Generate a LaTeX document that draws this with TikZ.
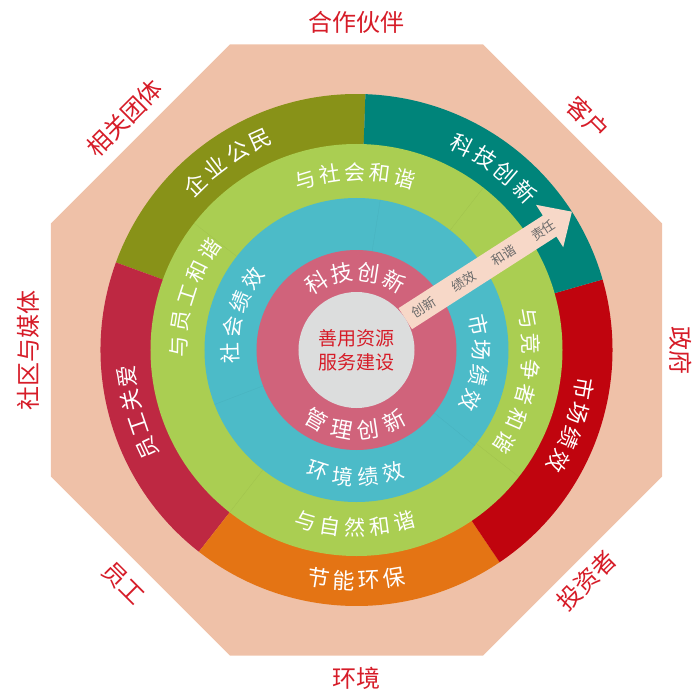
\documentclass[tikz,border=0pt]{standalone}
\usepackage{fontspec}
\newfontfamily\cjk{Noto Sans CJK SC}
\definecolor{octc}{RGB}{239,193,168}
\definecolor{olivec}{RGB}{136,146,24}
\definecolor{tealc}{RGB}{0,132,122}
\definecolor{crimc}{RGB}{190,40,66}
\definecolor{orangec}{RGB}{228,116,20}
\definecolor{redc}{RGB}{192,4,14}
\definecolor{greenc}{RGB}{170,206,82}
\definecolor{cyanc}{RGB}{76,187,200}
\definecolor{pinkc}{RGB}{208,99,123}
\definecolor{grayc}{RGB}{220,221,221}
\definecolor{arrowc}{RGB}{247,216,200}
\definecolor{labred}{RGB}{214,28,40}
\definecolor{arrtxt}{RGB}{105,105,105}
\tikzset{
  ringA/.style={text=white,inner sep=0pt,font=\cjk\fontsize{22}{22}\selectfont},
  ringB/.style={text=white,inner sep=0pt,font=\cjk\fontsize{21}{21}\selectfont},
  ringC/.style={text=white,inner sep=0pt,font=\cjk\fontsize{21}{21}\selectfont},
  ringD/.style={text=white,inner sep=0pt,font=\cjk\fontsize{22}{22}\selectfont},
  outlab/.style={text=labred,inner sep=0pt,font=\cjk\fontsize{24}{24}\selectfont},
  arrlab/.style={text=arrtxt,inner sep=0pt,rotate=32.7,font=\cjk\fontsize{13}{13}\selectfont},
  gdiv/.style={draw=greenc!94!black,line width=0.3pt},
  cdiv/.style={draw=cyanc!95!black,line width=0.3pt},
}
% #1 style, #2 radius, #3 centre angle, #4 step, #5 count, #6 dir (1 cw,-1 ccw), #7 name, #8 list
\newcommand{\arctxt}[8][ringA]{%
  \foreach \ch [count=\i] in {#8}{%
    \pgfmathsetmacro\ang{#3+#6*((#5+1)/2-\i)*#4}%
    \pgfmathsetmacro\rot{\ang-#6*90}%
    \node[#1,rotate=\rot] (#7-\i) at (\ang:#2) {\ch};
  }}
\begin{document}
\begin{tikzpicture}[x=1pt,y=1pt]
\useasboundingbox (-356.5,-341) rectangle (336.5,350);
% octagon
\fill[octc] (22.5:330.7) -- (67.5:330.7) -- (112.5:330.7) -- (157.5:330.7) -- (202.5:330.7) -- (247.5:330.7) -- (292.5:330.7) -- (337.5:330.7) -- cycle;
% outer ring segments
\fill[olivec] (0,0) -- (88:256) arc[start angle=88,end angle=160,radius=256] -- cycle;
\fill[crimc] (0,0) -- (160:256) arc[start angle=160,end angle=232,radius=256] -- cycle;
\fill[orangec] (0,0) -- (232:256) arc[start angle=232,end angle=304,radius=256] -- cycle;
\fill[redc] (0,0) -- (304:256) arc[start angle=304,end angle=376,radius=256] -- cycle;
\fill[tealc] (0,0) -- (16:256) arc[start angle=16,end angle=88,radius=256] -- cycle;
% inner rings
\fill[greenc] (0,0) circle[radius=206];
\fill[cyanc] (0,0) circle[radius=152];
\fill[pinkc] (0,0) circle[radius=100];
% faint dividers
\foreach \a in {52,142,232,322} \draw[gdiv] (\a:152) -- (\a:206);
\foreach \a in {81,201,321} \draw[cdiv] (\a:100) -- (\a:152);
% arrow
\begin{scope}[rotate=32.7]
\fill[arrowc] (58,-12.5) -- (229.5,-12.5) -- (229.5,-25.2) -- (256,0) -- (229.5,25.2) -- (229.5,12.5) -- (58,12.5) -- cycle;
\node[arrlab] (a1) at (79.5,0) {创新};
\node[arrlab] (a2) at (128,0) {绩效};
\node[arrlab] (a3) at (175,0) {和谐};
\node[arrlab] (a4) at (222,0) {责任};
\end{scope}
% centre
\fill[grayc] (0,0) circle[radius=58];
\node[text=labred,align=center,inner sep=0pt,font=\cjk\fontsize{19}{24}\selectfont] (core) at (0,0) {善用资源\\服务建设};
% outer ring text
\arctxt[ringA]{231}{124.4}{6.6}{4}{1}{o1}{企,业,公,民}
\arctxt[ringA]{231}{53}{6.5}{4}{1}{o2}{科,技,创,新}
\arctxt[ringA]{231}{-19.2}{6.4}{4}{1}{o3}{市,场,绩,效}
\arctxt[ringA]{231}{270}{6.3}{4}{-1}{o4}{节,能,环,保}
\arctxt[ringA]{231}{195.8}{6.2}{4}{1}{o5}{员,工,关,爱}
% green ring text
\arctxt[ringB]{178}{90.6}{8.1}{5}{1}{g1}{与,社,会,和,谐}
\arctxt[ringB]{178}{162.2}{8.4}{5}{1}{g2}{与,员,工,和,谐}
\arctxt[ringB]{178}{269.5}{8.0}{5}{-1}{g3}{与,自,然,和,谐}
\arctxt[ringB]{175}{-10.7}{8.5}{6}{1}{g4}{与,竞,争,者,和,谐}
% cyan ring text
\arctxt[ringC]{126}{163.4}{12.2}{4}{1}{c1}{社,会,绩,效}
\arctxt[ringC]{125}{-6}{11.8}{4}{1}{c2}{市,场,绩,效}
\arctxt[ringC]{127}{269.5}{11.5}{4}{-1}{c3}{环,境,绩,效}
% pink ring text
\arctxt[ringD]{78.5}{91}{19.9}{4}{1}{p1}{科,技,创,新}
\arctxt[ringD]{80.5}{269}{19.3}{4}{-1}{p2}{管,理,创,新}
% outside labels
\node[outlab] (l1) at (90:328) {合作伙伴};
\node[outlab,rotate=-45] (l2) at (45:328) {客户};
\node[outlab,rotate=-90] (l3) at (0:324.5) {政府};
\node[outlab,rotate=45] (l4) at (-45:326) {投资者};
\node[outlab] (l5) at (270:328) {环境};
\node[outlab,rotate=-45] (l6) at (225:330) {员工};
\node[outlab,rotate=90] (l7) at (180:328) {社区与媒体};
\node[outlab,rotate=45] (l8) at (135:328) {相关团体};
\end{tikzpicture}
\end{document}
